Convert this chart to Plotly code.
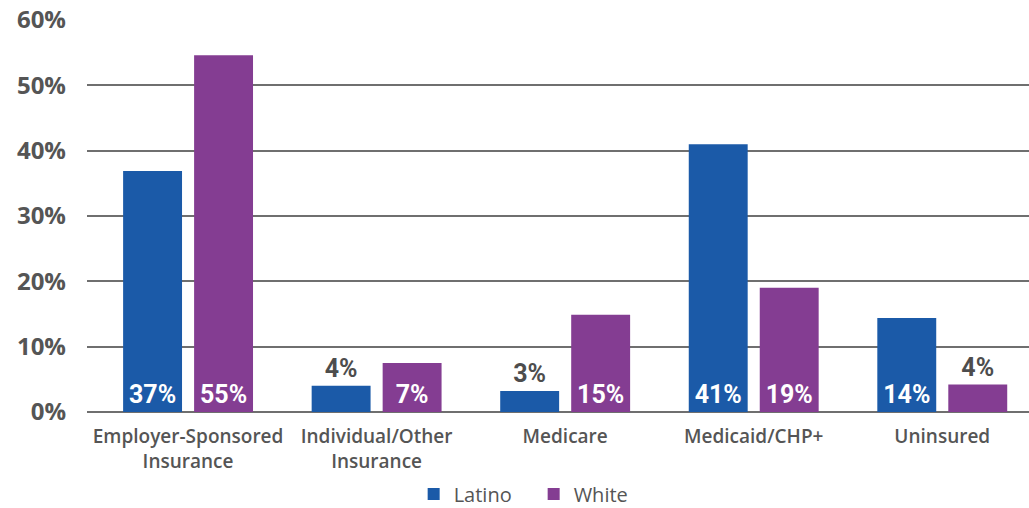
import plotly.graph_objects as go

categories = ["Employer-Sponsored<br>Insurance", "Individual/Other<br>Insurance", "Medicare", "Medicaid/CHP+", "Uninsured"]
latino = [37, 4, 3, 41, 14]
white = [55, 7, 15, 19, 4]
latino_heights = [36.9, 4.0, 3.2, 41.0, 14.4]
white_heights = [54.6, 7.5, 14.9, 19.0, 4.2]
latino_pos = ["inside", "outside", "outside", "inside", "inside"]
white_pos = ["inside", "inside", "inside", "inside", "outside"]
y_ticks = [0, 10, 20, 30, 40, 50, 60]
y_labels = ["0%", "10%", "20%", "30%", "40%", "50%", "60%"]

BLUE = "#1b5aa8"
PURPLE = "#843d92"
GREY = "#555555"
LABEL_FONT = "Roboto"


def make_bar(name, heights, values, positions, color):
    return go.Bar(
        name=name,
        x=categories,
        y=heights,
        text=[f"{v}%" for v in values],
        textposition=positions,
        textangle=0,
        insidetextanchor="start",
        constraintext="none",
        cliponaxis=False,
        marker=dict(color=color, line=dict(width=0)),
        insidetextfont=dict(family=LABEL_FONT, size=25, color="white", weight=700),
        outsidetextfont=dict(family=LABEL_FONT, size=25, color="#4d4d4d", weight=700),
        hoverinfo="skip",
    )


fig = go.Figure([
    make_bar("Latino", latino_heights, latino, latino_pos, BLUE),
    make_bar("White", white_heights, white, white_pos, PURPLE),
])

fig.update_layout(
    width=1029,
    height=508,
    margin=dict(l=87, r=0, t=20, b=96, autoexpand=False),
    paper_bgcolor="white",
    plot_bgcolor="white",
    barmode="group",
    bargap=0.247,
    bargroupgap=0.17,
    font=dict(family="Open Sans, sans-serif", color=GREY),
    showlegend=True,
    legend=dict(
        orientation="h",
        xref="container",
        yref="paper",
        x=0.402,
        xanchor="left",
        y=-0.209,
        yanchor="middle",
        entrywidth=75,
        entrywidthmode="pixels",
        font=dict(size=20, color=GREY),
        traceorder="normal",
    ),
)

fig.update_xaxes(
    range=[-0.536, 4.46],
    automargin=False,
    showgrid=False,
    zeroline=False,
    showline=False,
    ticks="",
    tickfont=dict(size=19, color=GREY, weight=600),
    ticklabelstandoff=11,
)

fig.update_yaxes(
    range=[0, 60],
    automargin=False,
    tickvals=y_ticks,
    ticktext=y_labels,
    showgrid=True,
    gridcolor="#6f6f6f",
    gridwidth=1.5,
    zeroline=True,
    zerolinecolor="#6f6f6f",
    zerolinewidth=1.5,
    showline=False,
    ticks="",
    tickfont=dict(size=24, color=GREY, weight=700),
    ticklabelstandoff=20,
)

post = "document.body.style.margin='0';"

fig.write_html("out.html", post_script=post, config={"displayModeBar": False})
